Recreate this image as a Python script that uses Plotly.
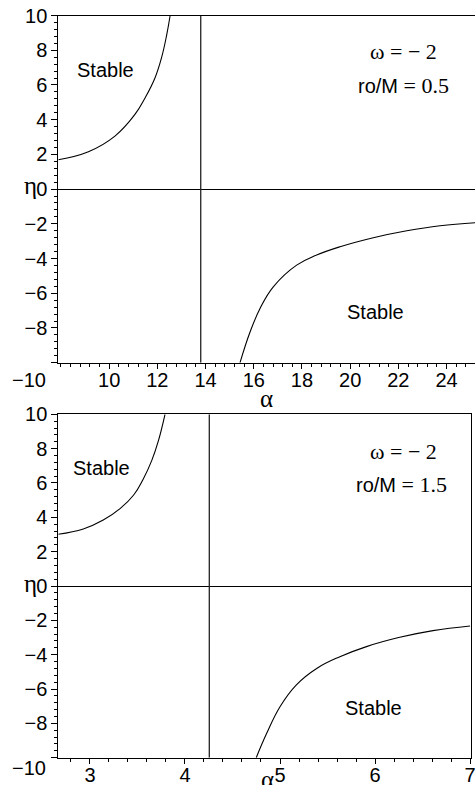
import plotly.graph_objects as go

# ---------------- data ----------------
# top panel: omega = -2, ro/M = 0.5
top_upper_alpha = [7.89, 9.14, 10.24, 11.07, 11.49, 11.90, 12.18, 12.39, 12.53]
top_upper_eta = [1.69, 2.15, 3.05, 4.30, 5.25, 6.40, 7.60, 8.90, 10.0]
top_lower_alpha = [15.43, 15.85, 16.26, 16.81, 17.78, 18.61, 19.58, 20.96, 22.35, 23.73, 25.18]
top_lower_eta = [-10.0, -8.22, -6.88, -5.63, -4.38, -3.80, -3.32, -2.80, -2.40, -2.11, -1.94]
top_asymptote = 13.8

# bottom panel: omega = -2, ro/M = 1.5
bot_upper_alpha = [2.667, 2.93, 3.14, 3.32, 3.46, 3.56, 3.65, 3.72, 3.79]
bot_upper_eta = [3.01, 3.32, 3.84, 4.52, 5.30, 6.22, 7.30, 8.45, 10.0]
bot_lower_alpha = [4.75, 4.86, 5.00, 5.17, 5.39, 5.63, 5.91, 6.26, 6.61, 7.0]
bot_lower_eta = [-10.0, -8.58, -7.03, -5.77, -4.79, -4.12, -3.53, -2.99, -2.60, -2.33]
bot_asymptote = 4.256

eta_range = [-10, 10]
eta_ticks = [-10, -8, -6, -4, -2, 0, 2, 4, 6, 8, 10]
eta_ticktext = ["", "\u22128", "\u22126", "\u22124", "\u22122", "0", "2", "4", "6", "8", "10"]
top_alpha_ticks = [10, 12, 14, 16, 18, 20, 22, 24]
bot_alpha_ticks = [3, 4, 5, 6, 7]
top_alpha_range = [7.89, 25.18]
bot_alpha_range = [2.667, 7.01]

top_params = ["\u03c9 = \u2212 2", "0.5"]
bot_params = ["\u03c9 = \u2212 2", "1.5"]
stable_label = "Stable"

# ---------------- layout helpers ----------------
W, H = 475, 785
def px(x):
    return x / W
def py(y):
    return 1 - y / H

SANS = "Liberation Sans, Arial, sans-serif"
SERIF = "Liberation Serif, Times New Roman, serif"

fig = go.Figure()

def add_curve(xs, ys, xa, ya):
    fig.add_trace(go.Scatter(x=xs, y=ys, mode="lines",
                             line=dict(color="black", width=1.1, shape="spline", smoothing=1.2),
                             xaxis=xa, yaxis=ya, showlegend=False, hoverinfo="skip"))

add_curve(top_upper_alpha, top_upper_eta, "x", "y")
add_curve(top_lower_alpha, top_lower_eta, "x", "y")
fig.add_trace(go.Scatter(x=[top_asymptote, top_asymptote], y=eta_range, mode="lines",
                         line=dict(color="#222", width=1.3), xaxis="x", yaxis="y", showlegend=False))
add_curve(bot_upper_alpha, bot_upper_eta, "x2", "y2")
add_curve(bot_lower_alpha, bot_lower_eta, "x2", "y2")
fig.add_trace(go.Scatter(x=[bot_asymptote, bot_asymptote], y=eta_range, mode="lines",
                         line=dict(color="#222", width=1.3), xaxis="x2", yaxis="y2", showlegend=False))

tickfont = dict(family=SANS, size=20, color="black")

def xaxis_cfg(domain, rng, ticks, anchor, minor_dtick):
    return dict(domain=domain, range=rng, anchor=anchor, tickvals=ticks, ticktext=[str(t) for t in ticks],
                showline=True, linecolor="black", linewidth=1, mirror=True, ticks="outside", ticklen=5,
                tickcolor="black", tickwidth=1, showgrid=False, zeroline=False, tickfont=tickfont,
                automargin=False, fixedrange=True, ticklabelstandoff=-6, ticklabeloverflow="allow",
                minor=dict(dtick=minor_dtick, tick0=0, ticks="outside", ticklen=3, tickcolor="black", showgrid=False))

def yaxis_cfg(domain, anchor, mirror):
    return dict(domain=domain, range=eta_range, anchor=anchor, tickvals=eta_ticks, ticktext=eta_ticktext,
                showline=True, linecolor="black", linewidth=1, mirror=mirror, ticks="outside", ticklen=6,
                tickcolor="black", tickwidth=1, showgrid=False, zeroline=True, zerolinecolor="black",
                zerolinewidth=1, tickfont=tickfont, automargin=False, fixedrange=True, ticklabeloverflow="allow",
                minor=dict(dtick=0.4, tick0=0, ticks="outside", ticklen=3, tickcolor="black", showgrid=False))

fig.update_layout(
    width=W, height=H, template="none",
    margin=dict(l=0, r=0, t=0, b=0),
    paper_bgcolor="white", plot_bgcolor="white",
    font=dict(family=SANS, size=20, color="black"),
    showlegend=False,
    xaxis=xaxis_cfg([px(58.3), 1.0], top_alpha_range, top_alpha_ticks, "y", 0.4),
    yaxis=yaxis_cfg([py(362.7), py(15.5)], "x", False),
    xaxis2=xaxis_cfg([px(58.3), px(471)], bot_alpha_range, bot_alpha_ticks, "y2", 0.2),
    yaxis2=yaxis_cfg([py(757.7), py(414.3)], "x2", True),
)

annotations = []
def ann(text, x, y, font, xanchor="center", yanchor="middle"):
    annotations.append(dict(text=text, x=px(x), y=py(y), xref="paper", yref="paper", showarrow=False,
                            xanchor=xanchor, yanchor=yanchor, font=font))

sans_font = dict(family=SANS, size=20, color="black")
serif_font = dict(family=SERIF, size=22, color="black")
greek_font = dict(family=SERIF, size=25, color="black")

# top panel texts
ann(stable_label, 105, 70, sans_font)
ann(stable_label, 375, 311.5, sans_font)
ann(top_params[0], 403.5, 52, serif_font)
ann("<span style='font-family:Liberation Sans, Arial;font-size:20px'>ro/M</span> = " + top_params[1], 403.5, 86, serif_font)
ann("\u221210", 48, 380, sans_font, xanchor="right")
ann("\u03b7", 30, 186, greek_font)
ann("\u03b1", 266, 398, greek_font)

# bottom panel texts
ann(stable_label, 101.7, 467.5, sans_font)
ann(stable_label, 373, 708, sans_font)
ann(bot_params[0], 403, 451, serif_font)
ann("<span style='font-family:Liberation Sans, Arial;font-size:20px'>ro/M</span> = " + bot_params[1], 401, 484, serif_font)
ann("\u221210", 48, 767.5, sans_font, xanchor="right")
ann("\u03b7", 30, 583, greek_font)
ann("\u03b1", 267, 779, greek_font)

fig.update_layout(annotations=annotations)

fig.write_html("out.html")
